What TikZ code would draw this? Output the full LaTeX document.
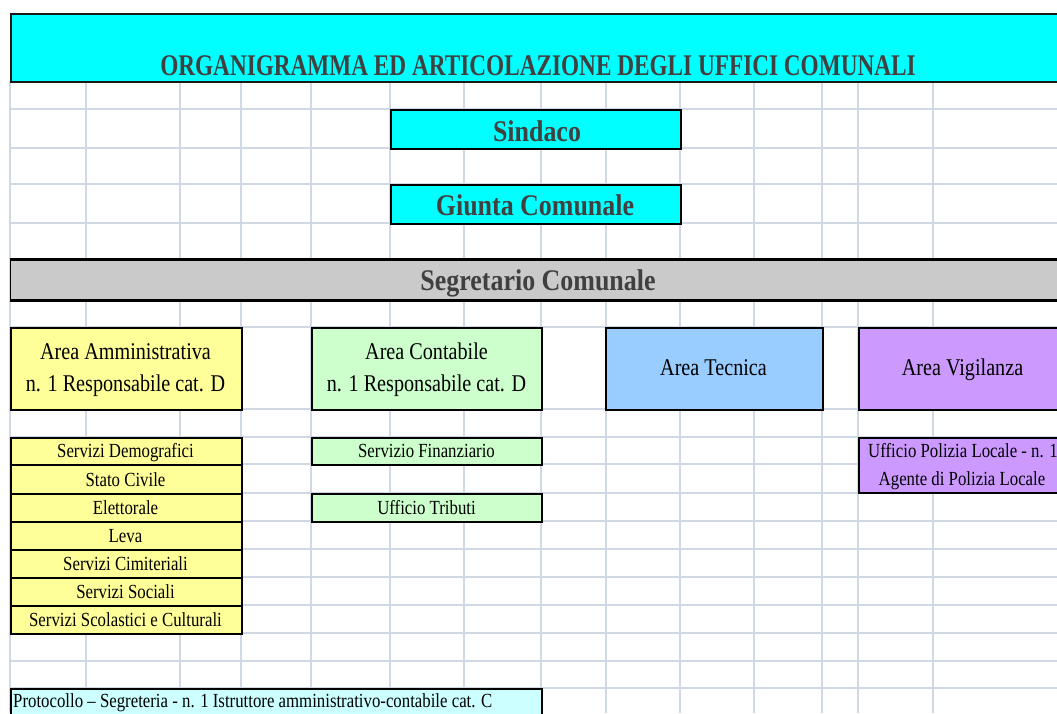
\documentclass[tikz,border=0pt]{standalone}
\usepackage{fontspec}
\setmainfont{Liberation Serif}
\newfontfamily\regf[FakeStretch=0.84]{Liberation Serif}
\newfontfamily\hdf[FakeStretch=0.865]{Liberation Serif}
\newfontfamily\ttlf[FakeStretch=0.775]{Liberation Serif}
\definecolor{gridc}{HTML}{D0D7E5}
\definecolor{cyanc}{HTML}{00FFFF}
\definecolor{greyc}{HTML}{CACACA}
\definecolor{yelc}{HTML}{FFFF99}
\definecolor{grnc}{HTML}{CCFFCC}
\definecolor{bluc}{HTML}{99CCFF}
\definecolor{purc}{HTML}{CC99FF}
\definecolor{lcyc}{HTML}{CCFFFF}
\definecolor{hdtext}{HTML}{404040}
\tikzset{
  gridl/.style={draw=gridc, line width=1.3pt},
  box/.style={draw=black, line width=1.5pt, rectangle, inner sep=0pt, anchor=north west},
  ttltext/.style={inner sep=0pt, anchor=base, text=hdtext, font=\ttlf\bfseries\fontsize{30}{36}\selectfont},
  hdtext/.style={inner sep=0pt, anchor=base, text=hdtext, font=\hdf\bfseries\fontsize{30}{36}\selectfont},
  areatext/.style={inner sep=0pt, anchor=base, text=black, font=\regf\fontsize{24}{30}\selectfont},
  subtext/.style={inner sep=0pt, anchor=base, text=black, font=\regf\fontsize{20}{24}\selectfont},
}
\begin{document}
\begin{tikzpicture}[x=1pt,y=-1pt]
\useasboundingbox (0,0) rectangle (1057,713);
\clip (0,0) rectangle (1057,713);
% spreadsheet grid
\foreach \x in {10,86,180,241,311,390,464,541,606,680,754,822,858,933}
  \draw[gridl] (\x,81) -- (\x,713);
\foreach \y in {81,109,148,184,223,259,299,327,409,437,464,493,521,549,577,605,633,661,688}
  \draw[gridl] (10,\y) -- (1057,\y);
% title
\node[box, fill=cyanc, draw=black!90, minimum width=1060pt, minimum height=68pt] (title) at (10,13) {};
\node[ttltext] (titletxt) at (538,75) {ORGANIGRAMMA ED ARTICOLAZIONE DEGLI UFFICI COMUNALI};
% Sindaco, Giunta
\node[box, fill=cyanc, minimum width=290pt, minimum height=39pt] (sind) at (390,109) {};
\node[hdtext] (sindtxt) at (537,141) {Sindaco};
\node[box, fill=cyanc, minimum width=290pt, minimum height=39pt] (giunta) at (390,184) {};
\node[hdtext] (giuntatxt) at (535,215) {Giunta Comunale};
% Segretario
\node[box, fill=greyc, line width=1pt, minimum width=1060pt, minimum height=40pt] (seg) at (10,259) {};
\draw[line width=3pt] (seg.north west) -- (seg.north east);
\draw[line width=3pt] (seg.south west) -- (seg.south east);
\node[hdtext] (segtxt) at (538,290) {Segretario Comunale};
% Areas
\node[box, fill=yelc, minimum width=231pt, minimum height=82pt] (amm) at (10,327) {};
\node[areatext] (amm1) at (125.5,359) {Area Amministrativa};
\node[areatext] (amm2) at (125.5,391) {n. 1 Responsabile cat. D};
\node[box, fill=grnc, minimum width=230pt, minimum height=82pt] (cont) at (311,327) {};
\node[areatext] (cont1) at (426.5,359) {Area Contabile};
\node[areatext] (cont2) at (426.5,391) {n. 1 Responsabile cat. D};
\node[box, fill=bluc, minimum width=217pt, minimum height=82pt] (tec) at (605,327) {};
\node[areatext] (tectxt) at (713.5,375) {Area Tecnica};
\node[box, fill=purc, minimum width=210pt, minimum height=82pt] (vig) at (858,327) {};
\node[areatext] (vigtxt) at (962.5,375) {Area Vigilanza};
% Amministrativa services
\node[box, fill=yelc, minimum width=231pt, minimum height=27pt] (s1) at (10,437) {};
\node[subtext] (s1t) at (125.5,457) {Servizi Demografici};
\node[box, fill=yelc, minimum width=231pt, minimum height=29pt] (s2) at (10,464) {};
\node[subtext] (s2t) at (125.5,486) {Stato Civile};
\node[box, fill=yelc, minimum width=231pt, minimum height=28pt] (s3) at (10,493) {};
\node[subtext] (s3t) at (125.5,514) {Elettorale};
\node[box, fill=yelc, minimum width=231pt, minimum height=28pt] (s4) at (10,521) {};
\node[subtext] (s4t) at (125.5,542) {Leva};
\node[box, fill=yelc, minimum width=231pt, minimum height=28pt] (s5) at (10,549) {};
\node[subtext] (s5t) at (125.5,570) {Servizi Cimiteriali};
\node[box, fill=yelc, minimum width=231pt, minimum height=28pt] (s6) at (10,577) {};
\node[subtext] (s6t) at (125.5,598) {Servizi Sociali};
\node[box, fill=yelc, minimum width=231pt, minimum height=28pt] (s7) at (10,605) {};
\node[subtext] (s7t) at (125.5,626) {Servizi Scolastici e Culturali};
% Contabile services
\node[box, fill=grnc, minimum width=230pt, minimum height=27pt] (c1) at (311,437) {};
\node[subtext] (c1t) at (426.5,457) {Servizio Finanziario};
\node[box, fill=grnc, minimum width=230pt, minimum height=28pt] (c2) at (311,493) {};
\node[subtext] (c2t) at (426.5,514) {Ufficio Tributi};
% Vigilanza service
\node[box, fill=purc, minimum width=210pt, minimum height=55pt] (v1) at (858,437) {};
\node[subtext] (v1a) at (963,457) {Ufficio Polizia Locale - n. 1};
\node[subtext] (v1b) at (962,485) {Agente di Polizia Locale};
% Protocollo
\node[box, fill=lcyc, minimum width=531pt, minimum height=40pt] (prot) at (10,688) {};
\node[subtext, anchor=base west] (prott) at (13,707) {Protocollo – Segreteria - n. 1 Istruttore amministrativo-contabile cat. C};
\end{tikzpicture}
\end{document}
